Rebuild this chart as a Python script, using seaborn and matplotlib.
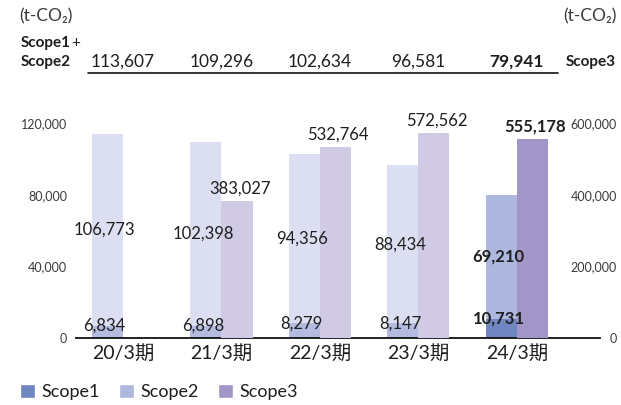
import numpy as np
import pandas as pd
import matplotlib
matplotlib.use("Agg")
import matplotlib.pyplot as plt
from matplotlib.patches import Patch
from matplotlib.lines import Line2D
from matplotlib import transforms
import seaborn as sns

# ---- data -------------------------------------------------------------
periods = ["20/3期", "21/3期", "22/3期", "23/3期", "24/3期"]
scope1 = [6834, 6898, 8279, 8147, 10731]
scope2 = [106773, 102398, 94356, 88434, 69210]
scope3 = [np.nan, 383027, 532764, 572562, 555178]
totals12 = [113607, 109296, 102634, 96581, 79941]

left_ticks = [0, 40000, 80000, 120000]
right_ticks = [0, 200000, 400000, 600000]

# ---- style ------------------------------------------------------------
c1 = ["#b3bce0"] * 4 + ["#6f86c1"]
c2 = ["#dcdff1"] * 4 + ["#aeb8de"]
c3 = ["#d0cae4"] * 4 + ["#a295c8"]
txt = "#1e1e1e"
tick_col = "#3a3a3a"

sns.set_theme(style="white")
plt.rcParams["font.family"] = ["Lato", "Noto Sans CJK JP", "DejaVu Sans"]

bar_w = 0.315
idx = np.arange(len(periods))
df = pd.DataFrame({
    "period": periods,
    "pos12": idx - bar_w / 2,
    "pos3": idx + bar_w / 2,
    "scope1": scope1,
    "stack": np.array(scope1) + np.array(scope2),
    "scope3": scope3,
})

fig = plt.figure(figsize=(6.21, 4.05), dpi=100)
ax = fig.add_axes([76 / 621, 67 / 405, 524 / 621, 215 / 405])
ax2 = ax.twinx()

common = dict(native_scale=True, width=bar_w, dodge=False, legend=False,
              errorbar=None, saturation=1, linewidth=0)
# Scope1+Scope2 stack: full height first, Scope1 segment drawn over its base
sns.barplot(data=df, x="pos12", y="stack", hue="period",
            palette=dict(zip(periods, c2)), ax=ax, **common)
sns.barplot(data=df, x="pos12", y="scope1", hue="period",
            palette=dict(zip(periods, c1)), ax=ax, **common)
d3 = df.dropna(subset=["scope3"])
sns.barplot(data=d3, x="pos3", y="scope3", hue="period",
            palette=dict(zip(periods, c3)), ax=ax2, **common)

# ---- axes -------------------------------------------------------------
ax.set_xlim(-0.477, 4.843)
ax2.set_xlim(-0.477, 4.843)
ax.set_ylim(0, 120000)
ax2.set_ylim(0, 600000)
for a in (ax, ax2):
    a.set_xlabel("")
    a.set_ylabel("")
    for s in ("top", "left", "right", "bottom"):
        a.spines[s].set_visible(False)
ax.spines["bottom"].set_visible(True)
ax.spines["bottom"].set_color("#111111")
ax.spines["bottom"].set_linewidth(1.3)

ax.set_xticks(idx, labels=periods)
ax.tick_params(axis="x", length=0, pad=4, labelsize=14, labelcolor=txt)
ax.set_yticks(left_ticks, labels=[f"{v:,}" for v in left_ticks])
ax.tick_params(axis="y", length=0, pad=6.5, labelsize=9, labelcolor=tick_col)
ax2.set_yticks(right_ticks)
ax2.set_yticklabels([f"{v:,}" for v in right_ticks], ha="right")
ax2.tick_params(axis="y", length=0, pad=12.2, labelsize=9, labelcolor=tick_col)
ax2.tick_params(axis="x", length=0)

# ---- value labels -----------------------------------------------------
for i in idx:
    bold = i == len(periods) - 1
    fw = "bold" if bold else "normal"
    x12 = df["pos12"][i]
    # Scope1 value at the top of its segment
    ax2.annotate(f"{scope1[i]:,}", xy=(x12, scope1[i]), xycoords=ax.transData,
                 xytext=(-2, 0), textcoords="offset points",
                 ha="center", va="center", fontsize=12, color=txt,
                 fontweight=fw, zorder=5)
    # Scope2 value in the middle of its segment
    ax2.annotate(f"{scope2[i]:,}", xy=(x12, scope1[i] + scope2[i] / 2),
                 xycoords=ax.transData, xytext=(-2, 0),
                 textcoords="offset points", ha="center", va="center",
                 fontsize=12, color=txt, fontweight=fw, zorder=5)
    # Scope3 value above its bar
    if not np.isnan(scope3[i]):
        ax2.annotate(f"{int(scope3[i]):,}", xy=(df["pos3"][i], scope3[i]),
                     xytext=(2, 3), textcoords="offset points",
                     ha="center", va="bottom", fontsize=12, color=txt,
                     fontweight=fw, zorder=5)

# ---- header row -------------------------------------------------------
hdr = transforms.blended_transform_factory(ax.transData, fig.transFigure)
y_hdr = 1 - 62 / 405
for i in idx:
    bold = i == len(periods) - 1
    fig.text(i, y_hdr, f"{totals12[i]:,}", transform=hdr, ha="center",
             va="center", fontsize=12.5, color=txt,
             fontweight="bold" if bold else "normal")
fig.text(21 / 621, 1 - 43 / 405, "Scope1", ha="left", va="center",
         fontsize=11, fontweight="bold", color=txt)
fig.text(71 / 621, 1 - 43 / 405, "+", ha="left", va="center",
         fontsize=11, color=txt)
fig.text(21 / 621, y_hdr, "Scope2", ha="left", va="center",
         fontsize=11, fontweight="bold", color=txt)
fig.text(566 / 621, y_hdr, "Scope3", ha="left", va="center",
         fontsize=11, fontweight="bold", color=txt)
fig.add_artist(Line2D([88 / 621, 558 / 621], [1 - 73 / 405, 1 - 73 / 405],
                      transform=fig.transFigure, color="#111111", lw=1.2))

unit_font = ["Lato", "DejaVu Sans"]
fig.text(19 / 621, 1 - 16 / 405, "(t-CO₂)", ha="left", va="center",
         fontsize=12.5, color=tick_col, family=unit_font)
fig.text(617 / 621, 1 - 16 / 405, "(t-CO₂)", ha="right", va="center",
         fontsize=12.5, color=tick_col, family=unit_font)

# ---- legend -----------------------------------------------------------
handles = [Patch(facecolor=c1[-1], label="Scope1"),
           Patch(facecolor=c2[-1], label="Scope2"),
           Patch(facecolor=c3[-1], label="Scope3")]
fig.legend(handles=handles, loc="center left",
           bbox_to_anchor=(20 / 621, 1 - 392 / 405), ncol=3, frameon=False,
           fontsize=13, handlelength=0.85, handleheight=0.85,
           handletextpad=0.35, columnspacing=1.05, borderpad=0,
           borderaxespad=0, labelcolor=txt)

fig.savefig("out.png", dpi=100)
